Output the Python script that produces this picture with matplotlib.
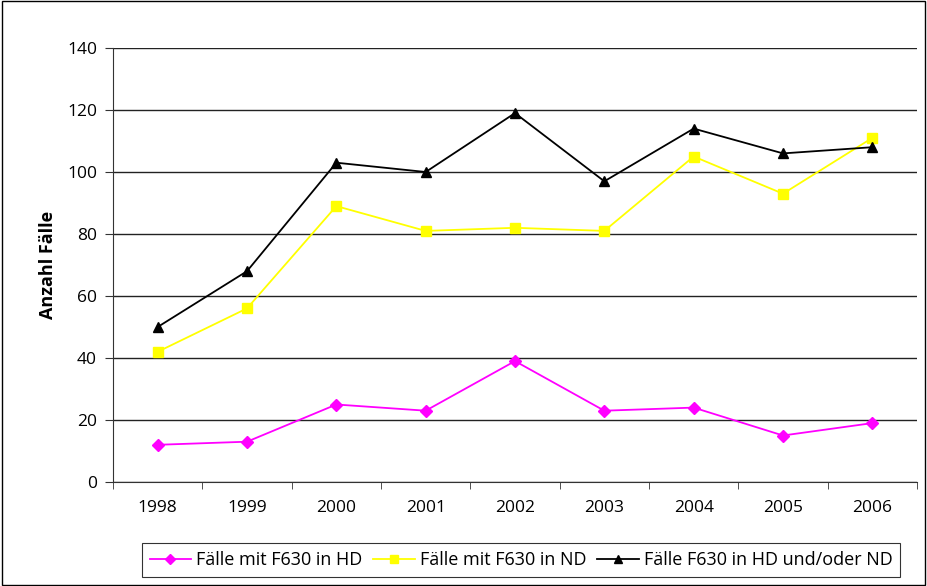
import matplotlib.pyplot as plt
from matplotlib.ticker import FixedLocator

plt.rcParams['font.family'] = ['Open Sans', 'DejaVu Sans']

# data
years = ['1998', '1999', '2000', '2001', '2002', '2003', '2004', '2005', '2006']
hd = [12, 13, 25, 23, 39, 23, 24, 15, 19]
nd = [42, 56, 89, 81, 82, 81, 105, 93, 111]
hd_or_nd = [50, 68, 103, 100, 119, 97, 114, 106, 108]

fig = plt.figure(figsize=(9.27, 5.86), dpi=100)
ax = fig.add_axes([113 / 927, 1 - 482 / 586, 804 / 927, 434 / 586])

x = range(len(years))
ax.plot(x, hd, color='#ff00ff', marker='D', markersize=6, lw=1.3,
        label='Fälle mit F630 in HD')
ax.plot(x, nd, color='#ffff00', marker='s', markersize=7, lw=1.3,
        label='Fälle mit F630 in ND')
ax.plot(x, hd_or_nd, color='black', marker='^', markersize=7, lw=1.3,
        label='Fälle F630 in HD und/oder ND')

ax.set_xlim(-0.5, len(years) - 0.5)
ax.set_ylim(0, 140)
ax.set_yticks(range(0, 141, 20))
ax.set_xticks(list(x))
ax.set_xticklabels(years)
ax.tick_params(axis='x', length=0, labelsize=12.5, pad=13)
ax.xaxis.set_minor_locator(FixedLocator([i - 0.5 for i in range(len(years) + 1)]))
ax.tick_params(axis='x', which='minor', length=5, direction='out', color='#333333')
ax.tick_params(axis='y', length=6, direction='out', labelsize=12.5, pad=5.5,
               color='#333333')
ax.yaxis.grid(True, color='#222222', lw=1)
ax.set_axisbelow(True)
for s in ['top', 'right']:
    ax.spines[s].set_visible(False)
for s in ['left', 'bottom']:
    ax.spines[s].set_color('#333333')
ax.set_ylabel('Anzahl Fälle', fontsize=13, fontweight='bold', labelpad=7)

leg = fig.legend(loc='center', bbox_to_anchor=(521 / 927, 1 - 560 / 586), ncol=3,
                 frameon=True, fancybox=False, edgecolor='black', fontsize=13,
                 handlelength=2.3, columnspacing=0.6, handletextpad=0.28,
                 borderpad=0.42, borderaxespad=0, markerscale=0.8)
leg.get_frame().set_linewidth(0.8)

# outer chart border
fig.patches.append(plt.Rectangle((0.002, 0.002), 0.996, 0.996, transform=fig.transFigure,
                                 fill=False, edgecolor='black', lw=1))

fig.savefig('out.png', dpi=100)
